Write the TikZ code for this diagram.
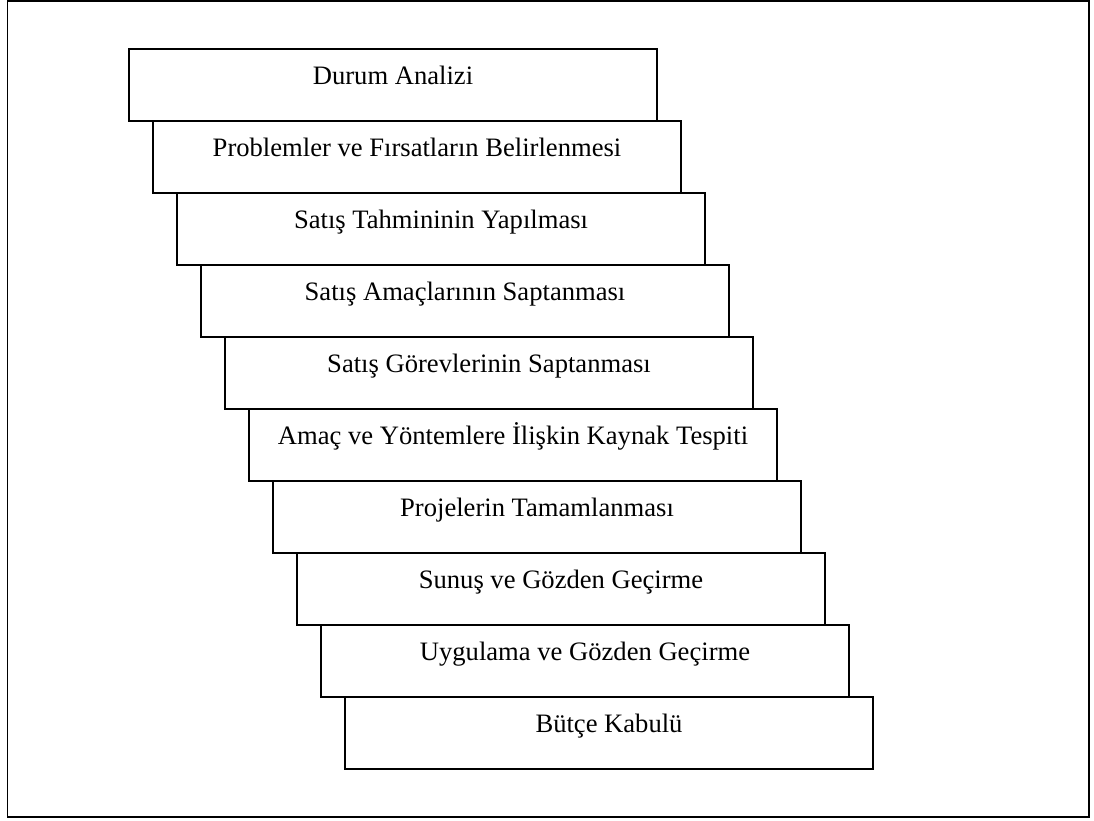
\documentclass[tikz,border=0pt]{standalone}
\usepackage{fontspec}
\setmainfont{Liberation Serif}
\begin{document}
\begin{tikzpicture}[x=1pt,y=-1pt,
  stepbox/.style={draw=black,line width=1.6pt,rectangle,minimum width=528pt,minimum height=72pt,inner sep=0pt},
  steplabel/.style={anchor=base,inner sep=0pt,font=\fontsize{26.6pt}{30pt}\selectfont},
  frame/.style={draw=black,line width=1.6pt}]
\useasboundingbox (0,0) rectangle (1094,821);
\draw[frame] (7.5,1) rectangle (1089,817);
\foreach \i/\t in {0/{Durum Analizi},
  1/{Problemler ve Fırsatların Belirlenmesi},
  2/{Satış Tahmininin Yapılması},
  3/{Satış Amaçlarının Saptanması},
  4/{Satış Görevlerinin Saptanması},
  5/{Amaç ve Yöntemlere İlişkin Kaynak Tespiti},
  6/{Projelerin Tamamlanması},
  7/{Sunuş ve Gözden Geçirme},
  8/{Uygulama ve Gözden Geçirme},
  9/{Bütçe Kabulü}}{
  \node[stepbox] (b\i) at ({393+24*\i},{85+72*\i}) {};
  \node[steplabel] (t\i) at ([yshift=-36.5pt]b\i.north) {\t};
}
\end{tikzpicture}
\end{document}
